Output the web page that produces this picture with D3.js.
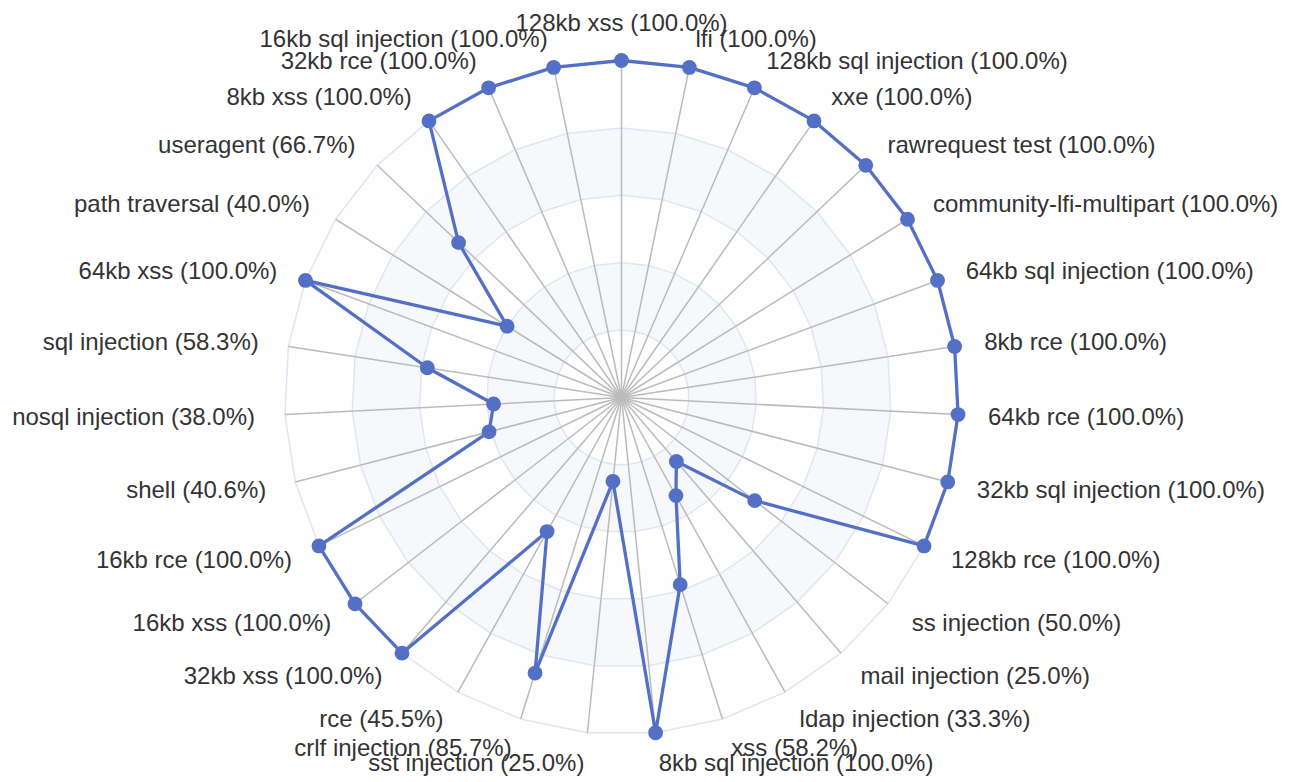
<!DOCTYPE html>
<html>
<head>
<meta charset="utf-8">
<script src="https://cdn.jsdelivr.net/npm/d3@7"></script>
<style>
  html, body { margin: 0; padding: 0; background: #fff; }
  svg { display: block; }
  text { font-family: "Liberation Sans", Arial, Helvetica, sans-serif; }
</style>
</head>
<body>
<svg id="chart" width="1293" height="782"></svg>
<script>
// Categories in clockwise order starting at the top
const categories = [
  "128kb xss", "lfi", "128kb sql injection", "xxe", "rawrequest test",
  "community-lfi-multipart", "64kb sql injection", "8kb rce", "64kb rce",
  "32kb sql injection", "128kb rce", "ss injection", "mail injection",
  "ldap injection", "xss", "8kb sql injection", "sst injection",
  "crlf injection", "rce", "32kb xss", "16kb xss", "16kb rce", "shell",
  "nosql injection", "sql injection", "64kb xss", "path traversal",
  "useragent", "8kb xss", "32kb rce", "16kb sql injection"
];
// Pass rate (%) per category
const values = [
  100, 100, 100, 100, 100,
  100, 100, 100, 100,
  100, 100, 50, 25,
  33.3, 58.2, 100, 25,
  85.7, 45.5, 100, 100, 100, 40.6,
  38.0, 58.3, 100, 40.0,
  66.7, 100, 100, 100
];
const splitLevels = [20, 40, 60, 80, 100];
const maxValue = 100;

const cx = 621.5, cy = 397.5, R = 337, labelGap = 30;
const svg = d3.select("#chart");
const g = svg.append("g").attr("transform", `translate(${cx},${cy})`);

const n = categories.length;
const angle = d3.scaleLinear().domain([0, n]).range([0, 2 * Math.PI]);
const r = d3.scaleLinear().domain([0, maxValue]).range([0, R]);

const ringLine = d3.lineRadial()
  .angle((d, i) => angle(i))
  .radius(d => d)
  .curve(d3.curveLinearClosed);

// split areas
const areaColors = ["rgba(250,250,250,0.2)", "rgba(210,219,238,0.2)"];
const levelsAll = [0].concat(splitLevels);
for (let k = splitLevels.length - 1; k >= 0; k--) {
  const outer = splitLevels[k], inner = levelsAll[k];
  const outerPath = ringLine(categories.map(() => r(outer)));
  const innerPath = inner > 0 ? ringLine(categories.map(() => r(inner)).reverse()) : "";
  g.append("path")
    .attr("d", outerPath + innerPath)
    .attr("fill", "#fff")
    .attr("fill-rule", "evenodd");
  g.append("path")
    .attr("d", outerPath + innerPath)
    .attr("fill", areaColors[k % 2])
    .attr("fill-rule", "evenodd");
}

// split lines
splitLevels.forEach(lv => {
  g.append("path")
    .attr("d", ringLine(categories.map(() => r(lv))))
    .attr("fill", "none")
    .attr("stroke", "#E0E6F1")
    .attr("stroke-width", 1.5);
});

// axis lines
g.selectAll("line.axis")
  .data(categories)
  .join("line")
  .attr("class", "axis")
  .attr("x1", 0).attr("y1", 0)
  .attr("x2", (d, i) => r(maxValue) * Math.sin(angle(i)))
  .attr("y2", (d, i) => -r(maxValue) * Math.cos(angle(i)))
  .attr("stroke", "#bbb")
  .attr("stroke-width", 1.5);

// series line
const seriesLine = d3.lineRadial()
  .angle((d, i) => angle(i))
  .radius(d => r(d))
  .curve(d3.curveLinearClosed);

g.append("path")
  .attr("d", seriesLine(values))
  .attr("fill", "none")
  .attr("stroke", "#5470c6")
  .attr("stroke-width", 3.3)
  .attr("stroke-linejoin", "round");

g.selectAll("circle.pt")
  .data(values)
  .join("circle")
  .attr("class", "pt")
  .attr("cx", (d, i) => r(d) * Math.sin(angle(i)))
  .attr("cy", (d, i) => -r(d) * Math.cos(angle(i)))
  .attr("r", 7.4)
  .attr("fill", "#5470c6");

// labels
const LR = R + labelGap;
g.selectAll("text.lbl")
  .data(categories)
  .join("text")
  .attr("class", "lbl")
  .attr("x", (d, i) => LR * Math.sin(angle(i)))
  .attr("y", (d, i) => {
    const y = -LR * Math.cos(angle(i));
    return i === 0 ? y + 0.8 : y + 8.5;
  })
  .attr("text-anchor", (d, i) => {
    if (i === 0) return "middle";
    return Math.sin(angle(i)) > 0 ? "start" : "end";
  })
  .attr("font-size", 24)
  .attr("fill", "#333")
  .text((d, i) => `${d} (${values[i].toFixed(1)}%)`);
</script>
</body>
</html>
